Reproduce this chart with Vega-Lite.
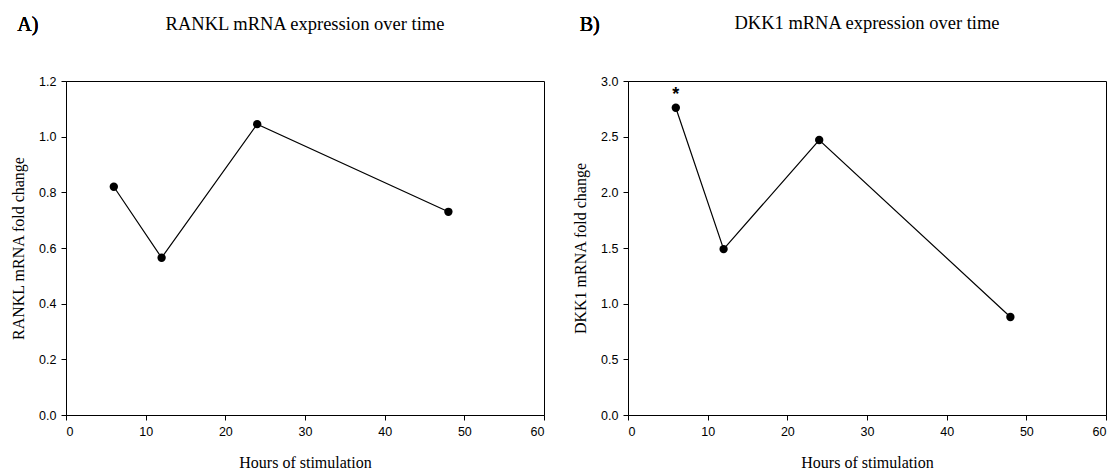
{
  "$schema": "https://vega.github.io/schema/vega-lite/v6.json",
  "background": "white",
  "padding": {"left": 10, "top": 13, "right": 5, "bottom": 0},
  "spacing": 84,
  "bounds": "flush",
  "datasets": {
    "rankl": [
      {"hours": 6, "fold": 0.82},
      {"hours": 12, "fold": 0.565},
      {"hours": 24, "fold": 1.045},
      {"hours": 48, "fold": 0.73}
    ],
    "dkk1": [
      {"hours": 6, "fold": 2.76, "sig": "*"},
      {"hours": 12, "fold": 1.49, "sig": ""},
      {"hours": 24, "fold": 2.47, "sig": ""},
      {"hours": 48, "fold": 0.88, "sig": ""}
    ]
  },
  "config": {
    "view": {"stroke": "black", "strokeWidth": 1},
    "axis": {
      "grid": false,
      "domainColor": "black",
      "tickColor": "black",
      "tickSize": 5,
      "labelFont": "Liberation Sans",
      "labelFontSize": 12.5,
      "labelColor": "black",
      "labelPadding": 5,
      "titleFont": "Liberation Serif",
      "titleFontSize": 16,
      "titleFontWeight": "normal",
      "titleColor": "black"
    },
    "title": {
      "font": "Liberation Serif",
      "fontSize": 18.5,
      "fontWeight": "normal",
      "color": "black",
      "anchor": "middle",
      "offset": -18
    }
  },
  "hconcat": [
    {
      "width": 478,
      "height": 334,
      "title": "RANKL mRNA expression over time",
      "data": {"name": "rankl"},
      "layer": [
        {
          "mark": {"type": "line", "color": "black", "strokeWidth": 1.2},
          "encoding": {
            "x": {"field": "hours", "type": "quantitative", "scale": {"domain": [0, 60], "nice": false},
              "axis": {"values": [0, 10, 20, 30, 40, 50, 60], "title": "Hours of stimulation", "titlePadding": 17}},
            "y": {"field": "fold", "type": "quantitative", "scale": {"domain": [0, 1.2], "nice": false},
              "axis": {"values": [0, 0.2, 0.4, 0.6, 0.8, 1.0, 1.2], "format": ".1f", "title": "RANKL mRNA fold change", "titlePadding": 12}}
          }
        },
        {
          "mark": {"type": "point", "filled": true, "color": "black", "size": 70, "opacity": 1},
          "encoding": {
            "x": {"field": "hours", "type": "quantitative"},
            "y": {"field": "fold", "type": "quantitative"}
          }
        },
        {
          "mark": {"type": "text", "font": "Liberation Serif", "fontSize": 20, "fontWeight": "normal", "color": "black"},
          "encoding": {
            "x": {"datum": -4.8, "type": "quantitative"},
            "y": {"datum": 1.401, "type": "quantitative"},
            "text": {"value": "A)"}
          }
        }
      ]
    },
    {
      "width": 478,
      "height": 334,
      "title": "DKK1 mRNA expression over time",
      "data": {"name": "dkk1"},
      "layer": [
        {
          "mark": {"type": "line", "color": "black", "strokeWidth": 1.2},
          "encoding": {
            "x": {"field": "hours", "type": "quantitative", "scale": {"domain": [0, 60], "nice": false},
              "axis": {"values": [0, 10, 20, 30, 40, 50, 60], "title": "Hours of stimulation", "titlePadding": 17}},
            "y": {"field": "fold", "type": "quantitative", "scale": {"domain": [0, 3], "nice": false},
              "axis": {"values": [0, 0.5, 1.0, 1.5, 2.0, 2.5, 3.0], "format": ".1f", "title": "DKK1 mRNA fold change", "titlePadding": 12}}
          }
        },
        {
          "mark": {"type": "point", "filled": true, "color": "black", "size": 70, "opacity": 1},
          "encoding": {
            "x": {"field": "hours", "type": "quantitative"},
            "y": {"field": "fold", "type": "quantitative"}
          }
        },
        {
          "mark": {"type": "text", "font": "Liberation Sans", "fontSize": 18, "fontWeight": "bold", "color": "black", "dy": -13},
          "encoding": {
            "x": {"field": "hours", "type": "quantitative"},
            "y": {"field": "fold", "type": "quantitative"},
            "text": {"field": "sig"}
          }
        },
        {
          "mark": {"type": "text", "font": "Liberation Serif", "fontSize": 20, "fontWeight": "normal", "color": "black"},
          "encoding": {
            "x": {"datum": -4.8, "type": "quantitative"},
            "y": {"datum": 3.505, "type": "quantitative"},
            "text": {"value": "B)"}
          }
        }
      ]
    }
  ]
}
